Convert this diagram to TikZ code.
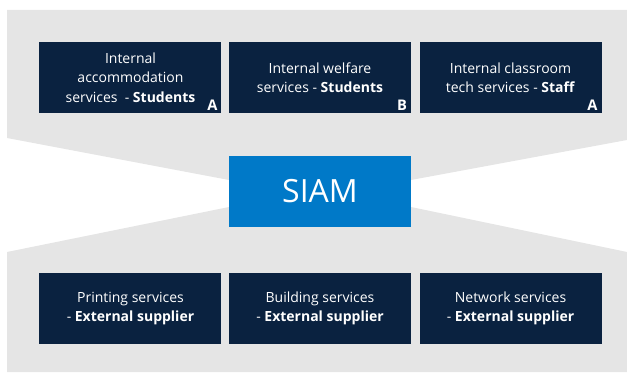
\documentclass[tikz,border=0pt]{standalone}
\usepackage{fontspec}
\setmainfont{Open Sans}
\usetikzlibrary{positioning}
\definecolor{navy}{HTML}{0A2240}
\definecolor{siamblue}{HTML}{0079C8}
\definecolor{backgray}{HTML}{E5E5E5}
\tikzset{
  svcbox/.style={fill=navy, text=white, minimum width=136.5pt, minimum height=53.25pt,
    inner sep=0pt, align=center, font=\fontsize{10.5}{14.5}\selectfont},
  tag/.style={text=white, inner sep=0pt, anchor=south east,
    font=\fontsize{11}{11}\selectfont\bfseries},
}

\begin{document}
\begin{tikzpicture}[x=0.75pt, y=-0.75pt, node distance=5.25pt]
  \useasboundingbox (0,0) rectangle (627,373);
  % --- grey bands ---
  \fill[backgray] (7,10) -- (627,10) -- (627,140) -- (411,180) -- (229,180) -- (7,138) -- cycle;
  \fill[backgray] (7,252) -- (229,207) -- (411,207) -- (627,252) -- (627,372) -- (7,372) -- cycle;
  % --- internal services ---
  \node[svcbox] (welfare) at (320,77.5) {Internal welfare\\services - \textbf{Students}};
  \node[svcbox, left=of welfare] (accom) {Internal\\accommodation\\services\ \ - \textbf{Students}};
  \node[svcbox, right=6pt of welfare] (classroom) {Internal classroom\\tech services - \textbf{Staff}};
  \node[tag] (tagaccom) at ([xshift=-3pt,yshift=2pt]accom.south east) {A};
  \node[tag] (tagwelfare) at ([xshift=-3pt,yshift=2pt]welfare.south east) {B};
  \node[tag] (tagclassroom) at ([xshift=-3pt,yshift=2pt]classroom.south east) {A};
  % --- SIAM ---
  \node[fill=siamblue, text=white, minimum width=136.5pt, minimum height=53.25pt,
    inner sep=0pt, font=\fontsize{24}{24}\selectfont] (siam) at (320,191.5) {SIAM};
  % --- external suppliers ---
  \node[svcbox] (building) at (320,308.5) {Building services\\- \textbf{External supplier}};
  \node[svcbox, left=of building] (printing) {Printing services\\- \textbf{External supplier}};
  \node[svcbox, right=6pt of building] (network) {Network services\\- \textbf{External supplier}};
\end{tikzpicture}
\end{document}
